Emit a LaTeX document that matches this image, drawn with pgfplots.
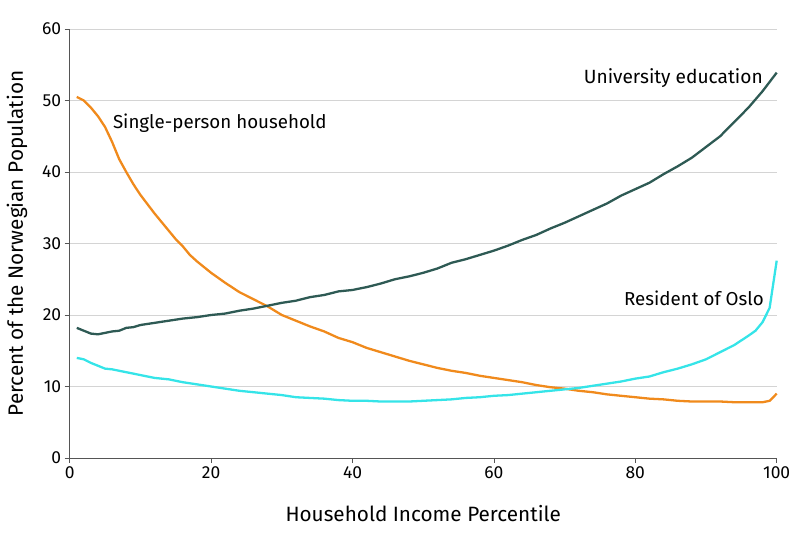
\documentclass[border=0pt]{standalone}
\usepackage{pgfplots}
\pgfplotsset{compat=1.18}
\usepackage{fontspec}
\setmainfont{Fira Sans}
\definecolor{orng}{HTML}{F08A1C}
\definecolor{teal}{HTML}{2E5A54}
\definecolor{cyn}{HTML}{35E4E8}
\definecolor{gridc}{HTML}{D4D4D4}
\definecolor{axc}{HTML}{555555}
\begin{document}
\begin{tikzpicture}
\useasboundingbox (0,0) rectangle (798bp,543bp);
\begin{axis}[
  at={(69.7bp,85bp)}, anchor=south west,
  scale only axis, width=707bp, height=429bp,
  xmin=0, xmax=100, ymin=0, ymax=60,
  axis x line=bottom, axis y line=left,
  axis line style={axc, line width=0.9pt, -},
  xtick={0,20,...,100}, ytick={0,10,...,60},
  tick style={axc, line width=0.8pt},
  tick align=outside, major tick length=5bp,
  ymajorgrids, grid style={gridc, line width=1pt},
  /pgf/number format/assume math mode=true,
  tick label style={font=\fontsize{17.5}{20}\selectfont, text=black},
  label style={font=\fontsize{20.8}{24}\selectfont},
  xlabel={Household Income Percentile},
  ylabel={Percent of the Norwegian Population},
  xlabel style={yshift=-20bp},
  ylabel style={yshift=8bp},
  clip=false,
]
\addplot[orng, line width=2.3pt] coordinates {
(1,50.5)(2,50.0)(3,49.0)(4,47.8)(5,46.3)(6,44.2)(7,41.8)(8,40.0)(9,38.3)(10,36.8)
(11,35.5)(12,34.2)(13,33.0)(14,31.8)(15,30.6)(16,29.6)(17,28.4)(18,27.5)(19,26.7)(20,25.9)
(22,24.5)(24,23.2)(26,22.2)(28,21.2)(30,20.0)(32,19.2)(34,18.4)(36,17.7)(38,16.8)(40,16.2)
(42,15.4)(44,14.8)(46,14.2)(48,13.6)(50,13.1)(52,12.6)(54,12.2)(56,11.9)(58,11.5)(60,11.2)
(62,10.9)(64,10.6)(66,10.2)(68,9.9)(70,9.7)(72,9.4)(74,9.2)(76,8.9)(78,8.7)(80,8.5)
(82,8.3)(84,8.2)(86,8.0)(88,7.9)(90,7.9)(92,7.9)(94,7.8)(96,7.8)(98,7.8)(99,8.0)(100,9.0)
};
\addplot[cyn, line width=2.3pt] coordinates {
(1,14.0)(2,13.8)(3,13.3)(4,12.9)(5,12.5)(6,12.4)(8,12.0)(10,11.6)(12,11.2)(14,11.0)
(16,10.6)(18,10.3)(20,10.0)(22,9.7)(24,9.4)(26,9.2)(28,9.0)(30,8.8)(32,8.5)(34,8.4)
(36,8.3)(38,8.1)(40,8.0)(42,8.0)(44,7.9)(46,7.9)(48,7.9)(50,8.0)(52,8.1)(54,8.2)
(56,8.4)(58,8.5)(60,8.7)(62,8.8)(64,9.0)(66,9.2)(68,9.4)(70,9.6)(72,9.8)(74,10.1)
(76,10.4)(78,10.7)(80,11.1)(82,11.4)(84,12.0)(86,12.5)(88,13.1)(90,13.8)(92,14.8)(94,15.8)
(96,17.1)(97,17.8)(98,19.0)(99,21.0)(100,27.6)
};
\addplot[teal, line width=2.3pt] coordinates {
(1,18.2)(2,17.8)(3,17.4)(4,17.3)(5,17.5)(6,17.7)(7,17.8)(8,18.2)(9,18.3)(10,18.6)
(12,18.9)(14,19.2)(16,19.5)(18,19.7)(20,20.0)(22,20.2)(24,20.6)(26,20.9)(28,21.3)(30,21.7)
(32,22.0)(34,22.5)(36,22.8)(38,23.3)(40,23.5)(42,23.9)(44,24.4)(46,25.0)(48,25.4)(50,25.9)
(52,26.5)(54,27.3)(56,27.8)(58,28.4)(60,29.0)(62,29.7)(64,30.5)(66,31.2)(68,32.1)(70,32.9)
(72,33.8)(74,34.7)(76,35.6)(78,36.7)(80,37.6)(82,38.5)(84,39.7)(86,40.8)(88,42.0)(90,43.5)
(92,45.0)(94,47.0)(96,49.0)(98,51.3)(100,53.9)
};
\node[anchor=east, font=\fontsize{19.2}{22}\selectfont, inner sep=0pt] at (axis cs:98.05,53.2) {University education};
\node[anchor=west, font=\fontsize{18.8}{22}\selectfont, inner sep=0pt] at (axis cs:6.1,46.8) {Single-person household};
\node[anchor=east, font=\fontsize{18.8}{22}\selectfont, inner sep=0pt] at (axis cs:98.2,22.4) {Resident of Oslo};
\end{axis}
\end{tikzpicture}
\end{document}
